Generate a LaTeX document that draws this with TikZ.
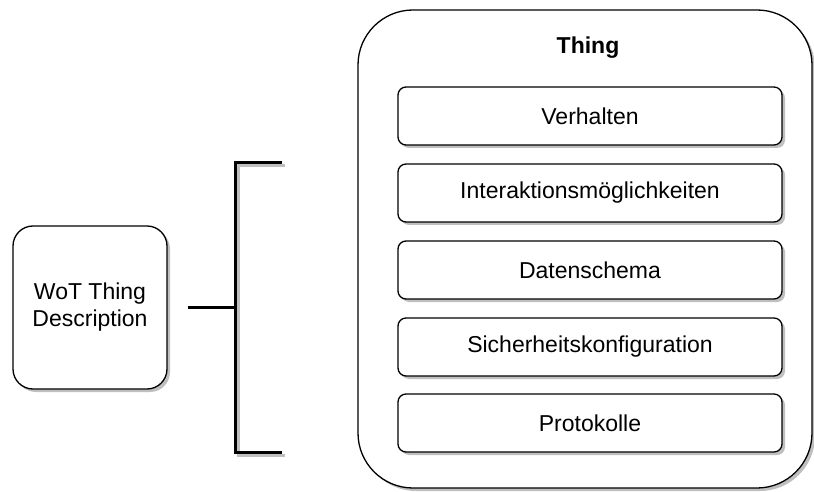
\documentclass[tikz,border=0pt]{standalone}
\usepackage{fontspec}
\setmainfont{Liberation Sans}
\usetikzlibrary{shadows}
\begin{document}
\begin{tikzpicture}[x=1bp,y=-1bp,
  shade/.style={drop shadow={shadow xshift=3bp,shadow yshift=-3bp,fill=black!25,opacity=1}},
  txt/.style={font=\fontsize{23bp}{27bp}\selectfont},
  part/.style={draw,line width=1.3bp,fill=white,rounded corners=8bp,
    minimum width=384bp,minimum height=58bp,inner sep=0pt,shade,txt},
  holder/.style={draw,line width=1.3bp,fill=white,rounded corners=55bp,
    minimum width=454bp,minimum height=478bp,inner sep=0pt,shade},
  desc/.style={draw,line width=1.3bp,fill=white,rounded corners=20bp,
    minimum width=154bp,minimum height=163bp,inner sep=0pt,shade,txt,align=center},
  brk/.style={line width=3bp},
  brkshadow/.style={line width=3bp,draw=black!25}]
\useasboundingbox (0,0) rectangle (814,492);
\fill[white] (0,0) rectangle (814,492);

% container with its parts
\node[holder] (thing) at (585,249) {};
\node[txt,font=\fontsize{23bp}{27bp}\selectfont\bfseries] (title) at (588,48) {Thing};
\node[part] (p1) at (590,116) {Verhalten};
\node[part] (p2) at (590,193) {Interaktionsmöglichkeiten};
\node[part] (p3) at (590,270) {Datenschema};
\node[part] (p4) at (590,347) {Sicherheitskonfiguration};
\node[part] (p5) at (590,423) {Protokolle};

% description box
\node[desc] (wot) at (90,307.5) {WoT Thing\\Description};

% bracket
\coordinate (bt) at (282,163);
\coordinate (bb) at (282,452);
\coordinate (bm) at (235,307.5);
\draw[brkshadow] ([shift={(3,3)}]bt) -| ([shift={(3,3)}]bm) |- ([shift={(3,3)}]bb);
\draw[brk] (bt) -| (bm) |- (bb);
\draw[brk,shorten <=20bp] (wot.east) -- (bm);
\end{tikzpicture}
\end{document}
